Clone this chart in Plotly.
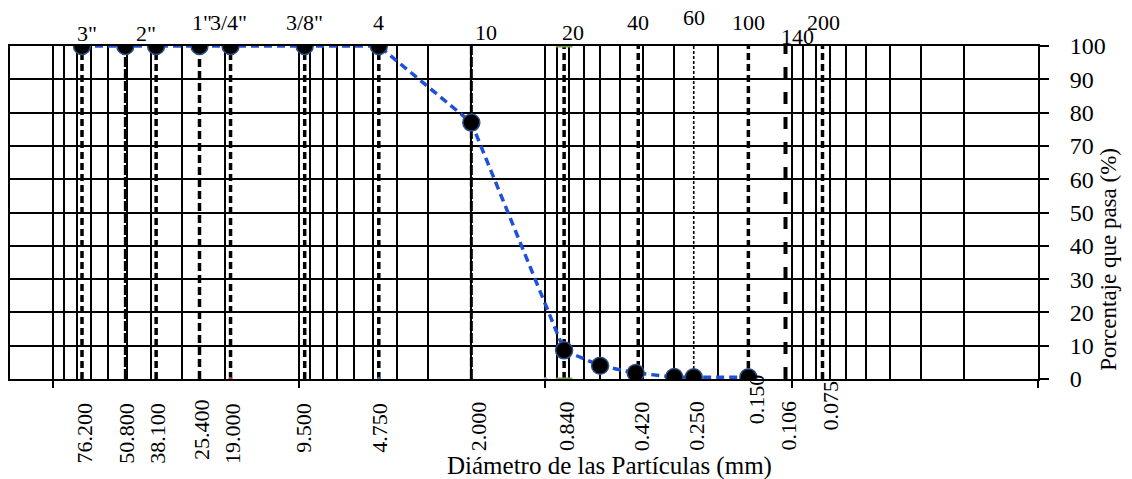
import math
import plotly.graph_objects as go

# ---------------- data ----------------
sieve_mm = [76.2, 50.8, 38.1, 25.4, 19.0, 9.5, 4.75, 2.0, 0.84, 0.42, 0.25, 0.15, 0.106, 0.075]
sieve_mm_labels = ['76.200', '50.800', '38.100', '25.400', '19.000', '9.500', '4.750',
                   '2.000', '0.840', '0.420', '0.250', '0.150', '0.106', '0.075']
sieve_names = ['3"', '2"', '', '1"', '3/4"', '3/8"', '4', '10', '20', '40', '60', '100', '140', '200']

diam_mm = [76.2, 50.8, 38.1, 25.4, 19.0, 9.5, 4.75, 2.0, 0.84, 0.6, 0.43, 0.30, 0.25, 0.15]
passing = [100, 100, 100, 100, 100, 100, 100, 77.0, 8.6, 4.0, 1.8, 0.6, 0.5, 0.5]

decades = [100, 10, 1, 0.1, 0.01]
y_ticks = [0, 10, 20, 30, 40, 50, 60, 70, 80, 90, 100]

# small coloured marks seen in the original
mark_x = [19.0, 4.75, 1.0]
mark_y = [0, 0, 0]
mark_col = ['#e0403a', '#3a7de0', '#b9a8d8']
green_x = [0.84, 0.84]
green_y = [0, 100]

# ---------------- style / layout parameters ----------------
FONT = 'Liberation Serif'
W, H = 1132, 479
ML, MR, MT, MB = 8, 94, 46, 100
PLOT_H = H - MT - MB
X_LEFT = 2.1743   # log10 of left edge
X_RIGHT = -2.0

# style of each sieve line
line_style = ['7px,4px', '10px,2px', '7px,4px', '8px,4px', '7px,4px', '7px,4px', '7px,4px',
              '10px,2px', '7px,4px', '7px,4px', '3px,2px', '7px,4px', '12px,13px', '7px,4px']
line_width = [3.5, 3, 3.5, 3.5, 3.5, 3.5, 3.5, 3, 3.5, 3.5, 1.6, 3.5, 4, 3.5]

top_dx = [5, 21, 0, 2, -2, 0, 0, 15, 9, 0, 0, 0, 12, 1]
top_py = [33, 33, 0, 22, 22, 22, 22, 32, 32, 22, 18, 22, 36, 22]
bot_dx = [2, 1, 1, 2, 2, -1, 1, 7, 2, 3, 2, 8, 2, 7]
bot_py = [402, 402, 402, 398, 402, 402, 402, 400, 400, 400, 400, 373, 400, 380]

def py_to_paper(py):
    return (H - MB - py) / PLOT_H

fig = go.Figure()

# sieve vertical lines
for s, dsh, wd in zip(sieve_mm, line_style, line_width):
    fig.add_trace(go.Scatter(x=[s, s], y=[0, 100], mode='lines',
                             line=dict(color='black', dash=dsh, width=wd),
                             hoverinfo='skip', showlegend=False))

# curve
fig.add_trace(go.Scatter(x=diam_mm, y=passing, mode='lines+markers',
                         line=dict(color='#1f50d8', width=3.5, dash='8px,5px'),
                         marker=dict(size=17, color='black',
                                     line=dict(color='#2d4f85', width=1.5)),
                         showlegend=False))

# small marks
fig.add_trace(go.Scatter(x=mark_x, y=mark_y, mode='markers', xaxis='x2',
                         marker=dict(size=4, color=mark_col), showlegend=False))
fig.add_trace(go.Scatter(x=green_x, y=green_y, mode='markers',
                         marker=dict(symbol='line-ew', size=12,
                                     line=dict(color='#7aa64a', width=3)),
                         showlegend=False))

# grid values (1..9 per decade)
grid_vals = []
for d in [0.01, 0.1, 1, 10, 100]:
    for k in range(1, 10):
        v = d * k
        if math.log10(v) <= X_LEFT + 1e-9:
            grid_vals.append(v)

ann = []
for s, name, dx, py in zip(sieve_mm, sieve_names, top_dx, top_py):
    if name:
        ann.append(dict(x=math.log10(s), y=py_to_paper(py), xref='x', yref='paper',
                        text=name, showarrow=False, xshift=dx,
                        xanchor='center', yanchor='middle',
                        font=dict(family=FONT, size=22, color='black')))
for s, lab, dx, py in zip(sieve_mm, sieve_mm_labels, bot_dx, bot_py):
    ann.append(dict(x=math.log10(s), y=py_to_paper(py), xref='x', yref='paper',
                    text=lab, showarrow=False, xshift=dx, textangle=-90,
                    xanchor='center', yanchor='top', borderpad=0,
                    font=dict(family=FONT, size=22, color='black')))

ann.append(dict(x=(609 - ML) / (W - ML - MR), y=py_to_paper(466), xref='paper', yref='paper',
                text='Diámetro de las Partículas (mm)', showarrow=False,
                xanchor='center', yanchor='middle',
                font=dict(family=FONT, size=25, color='black')))
ann.append(dict(x=(1108 - ML) / (W - ML - MR), y=py_to_paper(259), xref='paper', yref='paper',
                text='Porcentaje que pasa (%)', showarrow=False, textangle=-90,
                xanchor='center', yanchor='middle',
                font=dict(family=FONT, size=23, color='black')))

fig.update_layout(
    width=W, height=H,
    margin=dict(l=ML, r=MR, t=MT, b=MB),
    paper_bgcolor='white', plot_bgcolor='white',
    font=dict(family=FONT, size=22, color='black'),
    xaxis=dict(type='log', range=[X_LEFT, X_RIGHT], tickvals=grid_vals,
               showticklabels=False, ticks='', showgrid=True,
               gridcolor='black', gridwidth=1.8, showline=True, mirror=True,
               linecolor='black', linewidth=2, zeroline=False),
    xaxis2=dict(type='log', range=[X_LEFT, X_RIGHT], overlaying='x', anchor='y',
                side='bottom', tickvals=decades, ticks='outside', ticklen=8,
                tickwidth=1.8, tickcolor='black', showticklabels=False,
                showgrid=False, showline=False, zeroline=False),
    yaxis=dict(range=[0, 100], tickvals=y_ticks, side='right', ticks='outside',
               ticklen=9, tickwidth=1.8, tickcolor='black', showgrid=True,
               gridcolor='black', gridwidth=1.8, showline=True, mirror=True,
               linecolor='black', linewidth=2, zeroline=False,
               ticklabelstandoff=16,
               tickfont=dict(family=FONT, size=24, color='black')),
    annotations=ann,
)

fig.write_html('out.html', config={'displayModeBar': False},
               post_script="document.body.style.margin='0';document.body.style.padding='0';")
